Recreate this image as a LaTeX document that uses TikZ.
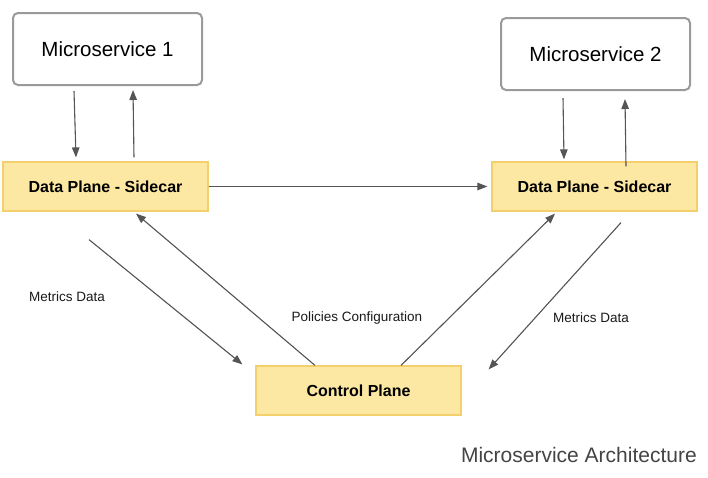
\documentclass[tikz,border=0pt]{standalone}
\usepackage{fontspec}
\setmainfont{Liberation Sans}
\usetikzlibrary{arrows.meta}
\definecolor{arrgray}{HTML}{555555}
\definecolor{boxgray}{HTML}{9A9A9A}
\definecolor{dpfill}{HTML}{FCE8A2}
\definecolor{dpline}{HTML}{F3D06C}
\definecolor{titlegray}{HTML}{444444}
\begin{document}
\begin{tikzpicture}[x=1pt,y=-1pt,
  msbox/.style={draw=boxgray,line width=2pt,rounded corners=5pt,fill=white,
    minimum width=189pt,minimum height=72pt,inner sep=0pt,
    font=\fontsize{20.5pt}{23pt}\selectfont,text=black},
  dpbox/.style={draw=dpline,line width=1.2pt,fill=dpfill,
    minimum width=205pt,minimum height=49pt,inner sep=0pt,
    font=\fontsize{16pt}{18pt}\selectfont\bfseries,text=black},
  arr/.style={draw=arrgray,line width=1.1pt,-{Triangle[length=10pt,width=7.5pt]},fill=arrgray},
  lbl/.style={font=\fontsize{13.5pt}{15pt}\selectfont,text=black!90,inner sep=0pt}]
\useasboundingbox (0,0) rectangle (708,477);
\node[msbox] (ms1) at (107.5,49) {Microservice 1};
\node[msbox] (ms2) at (595.5,54) {Microservice 2};
\node[dpbox] (dp1) at (105.5,186.5) {Data Plane - Sidecar};
\node[dpbox] (dp2) at (594.5,186.5) {Data Plane - Sidecar};
\node[dpbox] (cp) at (358.5,390.5) {Control Plane};

\draw[arr] ([xshift=-33.5pt,yshift=-5pt]ms1.south) -- ([xshift=-29.5pt,yshift=4pt]dp1.north);
\draw[arr] ([xshift=28.5pt,yshift=4pt]dp1.north) -- ([xshift=25.5pt,yshift=-4pt]ms1.south);
\draw[arr] ([xshift=-32.5pt,yshift=-7pt]ms2.south) -- ([xshift=-30.5pt,yshift=2pt]dp2.north);
\draw[arr] ([xshift=31.5pt,yshift=-5pt]dp2.north) -- ([xshift=29.5pt,yshift=-8pt]ms2.south);
\draw[arr] (dp1.east) -- ([xshift=-4pt]dp2.west);

\draw[arr] ([xshift=-16.5pt,yshift=-28pt]dp1.south) -- ([xshift=-13pt,yshift=1pt]cp.north west);
\draw[arr] ([xshift=-43.5pt]cp.north) -- ([xshift=30.5pt,yshift=-2pt]dp1.south);
\draw[arr] ([xshift=42.5pt]cp.north) -- ([xshift=-39.5pt,yshift=-2pt]dp2.south);
\draw[arr] ([xshift=26.5pt,yshift=-11pt]dp2.south) -- ([xshift=27pt,yshift=-4pt]cp.north east);

\node[lbl] (l1) at (67,297) {Metrics Data};
\node[lbl] (l2) at (357,318) {Policies Configuration};
\node[lbl] (l3) at (591,318) {Metrics Data};
\node[anchor=east,inner sep=0pt,font=\fontsize{21pt}{24pt}\selectfont,text=titlegray] (title) at (697,455) {Microservice Architecture};
\end{tikzpicture}
\end{document}
